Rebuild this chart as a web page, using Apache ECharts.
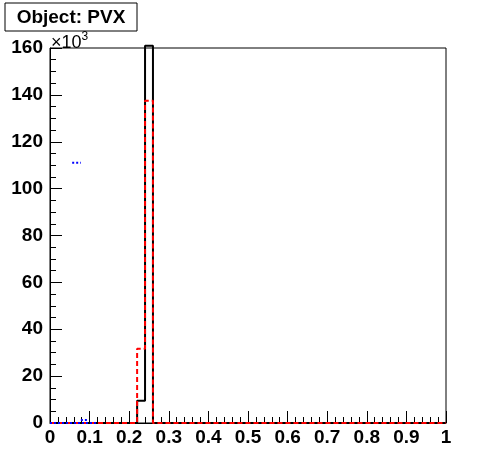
<!DOCTYPE html>
<html>
<head>
<meta charset="utf-8">
<script src="https://cdn.jsdelivr.net/npm/echarts@6/dist/echarts.min.js"></script>
<style>
  html, body {margin: 0; padding: 0; background: #fff;}
  #chart {width: 496px; height: 472px;}
</style>
</head>
<body>
<div id="chart"></div>
<script>
  // 50 bins of width 0.02 from 0 to 1, values in units of 10^3
  const binWidth = 0.02;
  const nBins = 50;
  const blackBins = {11: 9.5, 12: 161};
  const redBins = {11: 31.7, 12: 137.5};
  // blue pieces: [from, to, value]
  const blueSegs = [[0, 0.12, 0], [0.056, 0.078, 111], [0.078, 0.094, 1.3]];

  function histPoints(bins) {
    const pts = [];
    for (let i = 0; i < nBins; i++) {
      const v = bins[i] || 0;
      pts.push([+(i * binWidth).toFixed(2), v]);
      pts.push([+((i + 1) * binWidth).toFixed(2), v]);
    }
    return pts;
  }

  function segPoints(segs) {
    const pts = [];
    segs.forEach(s => {
      pts.push([s[0], s[2]]);
      pts.push([s[1], s[2]]);
      pts.push([s[1], '-']);
    });
    return pts;
  }

  const font = '"Liberation Sans", Arial, sans-serif';

  const option = {
    animation: false,
    backgroundColor: '#fff',
    grid: {left: 50, right: 50, top: 48, bottom: 49, show: true, borderColor: '#000', borderWidth: 1},
    xAxis: {
      type: 'value',
      min: 0,
      max: 1,
      interval: 0.1,
      axisLine: {onZero: false, lineStyle: {color: '#000', width: 1}},
      axisTick: {inside: true, length: 12, lineStyle: {color: '#000'}},
      minorTick: {show: true, splitNumber: 5, length: 6, lineStyle: {color: '#000'}},
      splitLine: {show: false},
      axisLabel: {
        color: '#000', fontFamily: font, fontWeight: 'bold', fontSize: 19, margin: 5,
        formatter: v => (Math.round(v * 10) / 10).toString()
      }
    },
    yAxis: {
      type: 'value',
      min: 0,
      max: 160,
      interval: 20,
      axisLine: {show: true, lineStyle: {color: '#000', width: 1}},
      axisTick: {inside: true, length: 12, lineStyle: {color: '#000'}},
      minorTick: {show: true, splitNumber: 4, length: 6, lineStyle: {color: '#000'}},
      splitLine: {show: false},
      axisLabel: {color: '#000', fontFamily: font, fontWeight: 'bold', fontSize: 19, margin: 7}
    },
    series: [
      {
        name: 'black',
        type: 'line',
        data: histPoints(blackBins),
        showSymbol: false,
        clip: false,
        lineStyle: {color: '#000', width: 2}
      },
      {
        name: 'red',
        type: 'line',
        data: histPoints(redBins),
        showSymbol: false,
        lineStyle: {color: '#ff0000', width: 2, type: [5, 3]}
      },
      {
        name: 'blue',
        type: 'line',
        data: segPoints(blueSegs),
        showSymbol: false,
        connectNulls: false,
        lineStyle: {color: '#0000ff', width: 2, type: [2, 2]}
      }
    ],
    graphic: [
      {
        type: 'rect',
        shape: {x: 5, y: 3, width: 132, height: 28},
        style: {fill: '#fff', stroke: '#000', lineWidth: 1}
      },
      {
        type: 'text',
        x: 71, y: 18,
        style: {
          text: 'Object: PVX', fill: '#000', font: 'bold 19px ' + font,
          align: 'center', verticalAlign: 'middle'
        }
      },
      {
        type: 'text',
        x: 51, y: 31,
        style: {
          text: '{a|×10}{b|3}',
          rich: {
            a: {fontFamily: font, fontSize: 18, fill: '#000', verticalAlign: 'bottom'},
            b: {fontFamily: font, fontSize: 12, fill: '#000', padding: [0, 0, 9, 0]}
          }
        }
      }
    ]
  };

  echarts.init(document.getElementById('chart')).setOption(option);
</script>
</body>
</html>
